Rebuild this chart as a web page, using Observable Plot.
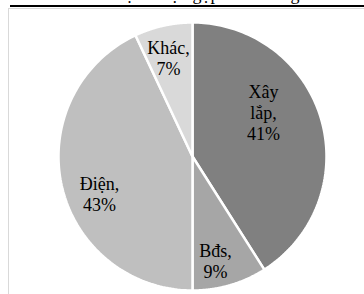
<!DOCTYPE html>
<html>
<head>
<meta charset="utf-8">
<script src="https://cdn.jsdelivr.net/npm/d3@7"></script>
<script src="https://cdn.jsdelivr.net/npm/@observablehq/plot@0.6"></script>
<style>
  html, body { margin: 0; padding: 0; background: #fff; }
  #wrap { position: relative; width: 364px; height: 294px; overflow: hidden; }
  #title { position: absolute; left: 0; width: 364px; top: -16px; text-align: center;
           font-family: "Liberation Serif", serif; font-size: 18px; color: #000; white-space: nowrap; }
  #rule { position: absolute; left: 10px; right: 0; top: 5px; height: 2px; background: #000; }
  #box { position: absolute; left: 8px; top: 8px; width: 400px; height: 400px;
         border-left: 1.5px solid #d9d9d9; border-top: 1.5px solid #d9d9d9; }
  #chart { position: absolute; left: 0; top: 0; }
</style>
</head>
<body>
<div id="wrap">
  <div id="title">Cơ cấu lợi nhuận gộp theo mảng</div>
  <div id="rule"></div>
  <div id="box"></div>
  <div id="chart"></div>
</div>
<script>
// Data
const categories = ["Xây lắp", "Bđs", "Điện", "Khác"];
const shares = [41, 9, 43, 7];
const labels = ["Xây\nlắp,\n41%", "Bđs,\n9%", "Điện,\n43%", "Khác,\n7%"];

// Style / layout (kept apart from the data)
const colors = ["#808080", "#a6a6a6", "#bfbfbf", "#d9d9d9"];
const labelAngleDeg = [58, 167.6, 248.3, 346.4];
const labelRadius = [0.625, 0.80, 0.747, 0.76];
const serif = "Liberation Serif";

const total = d3.sum(shares);
let acc = 0;
const wedges = [];
shares.forEach((v, i) => {
  const a0 = acc / total * 2 * Math.PI;
  acc += v;
  const a1 = acc / total * 2 * Math.PI;
  const n = 120;
  wedges.push({cat: categories[i], x: 0, y: 0});
  for (let k = 0; k <= n; k++) {
    const a = a0 + (a1 - a0) * k / n;
    wedges.push({cat: categories[i], x: Math.sin(a), y: Math.cos(a)});
  }
  wedges.push({cat: categories[i], x: 0, y: 0});
});

const labelData = categories.map((c, i) => {
  const a = labelAngleDeg[i] * Math.PI / 180;
  return {cat: c, text: labels[i], x: labelRadius[i] * Math.sin(a), y: labelRadius[i] * Math.cos(a)};
});

const chart = Plot.plot({
  width: 364,
  height: 294,
  marginLeft: 58,
  marginRight: 38,
  marginTop: 22,
  marginBottom: 4,
  style: {background: "transparent", overflow: "visible", fontFamily: serif},
  x: {domain: [-1, 1], axis: null},
  y: {domain: [-1, 1], axis: null},
  color: {domain: categories, range: colors},
  marks: [
    Plot.line(wedges, {x: "x", y: "y", z: "cat", fill: "cat", stroke: "white", strokeWidth: 2.5, strokeLinejoin: "miter", curve: "linear"}),
    Plot.text(labelData, {x: "x", y: "y", text: "text", fontSize: 18, lineHeight: 1.17, fill: "#000",
      fontFamily: serif, textAnchor: "middle", lineAnchor: "middle"})
  ]
});
document.getElementById("chart").appendChild(chart);
</script>
</body>
</html>
